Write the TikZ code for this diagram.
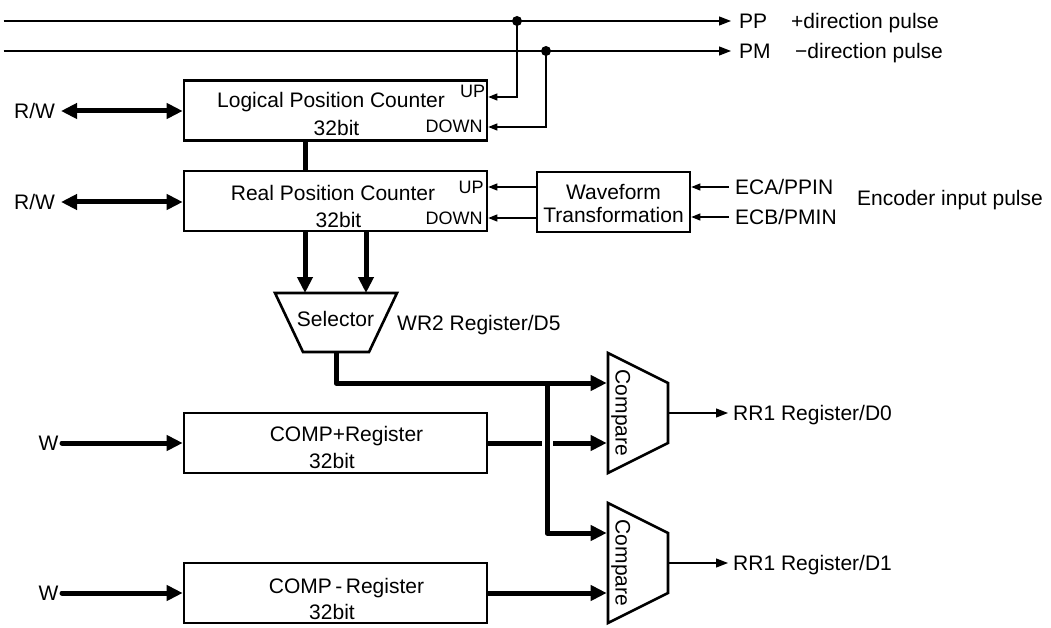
\documentclass[tikz,border=0pt]{standalone}
\usepackage{fontspec}
\setmainfont{Liberation Sans}
\usetikzlibrary{arrows.meta}
\begin{document}
\begin{tikzpicture}[x=1pt,y=-1pt,
  box/.style={draw,line width=2.6pt,minimum width=303pt,minimum height=60pt,inner sep=0pt},
  txt/.style={inner sep=0pt,font=\fontsize{21}{25}\selectfont,text height=15pt,text depth=0pt},
  small/.style={inner sep=0pt,font=\fontsize{18}{22}\selectfont,text height=13pt,text depth=0pt},
  wire/.style={line width=1.2pt},
  wirearr/.style={wire,-{Triangle[length=9pt,width=7pt]}},
  outarr/.style={wire,-{Triangle[length=12pt,width=9pt]}},
  bus/.style={line width=5pt,line join=round},
  busarr/.style={bus,-{Triangle[length=16pt,width=15pt]}},
  dbusarr/.style={bus,{Triangle[length=16pt,width=15pt]}-{Triangle[length=16pt,width=15pt]}},
  dot/.style={circle,fill,inner sep=0pt,minimum size=10pt},
  outline/.style={line width=2.6pt,line join=miter},
]
\useasboundingbox (0,0) rectangle (1051,628);

% boxes
\node[box] (lpc) at (335.5,110.5) {};
\node[box] (rpc) at (335.5,201) {};
\node[box,minimum width=153pt] (wav) at (613.5,202) {};
\node[box] (cpp) at (335.5,443) {};
\node[box] (cpm) at (335.5,593) {};

% box texts
\node[txt] (lpct) at (331,100) {Logical Position Counter};
\node[txt] (lpcb) at (336.5,128) {32bit};
\node[small] (lpcu) at (472.5,91) {UP};
\node[small] (lpcd) at (454,126) {DOWN};
\node[txt] (rpct) at (333,193) {Real Position Counter};
\node[txt] (rpcb) at (338.5,220) {32bit};
\node[small] (rpcu) at (471,187) {UP};
\node[small] (rpcd) at (454,218) {DOWN};
\node[txt] (wavt) at (613.5,192) {Waveform};
\node[txt] (wavb) at (613.5,215) {Transformation};
\node[txt] (cppt) at (346.5,434) {COMP+Register};
\node[txt] (cppb) at (332,461) {32bit};
\node[txt] (cpmt) at (346.5,586) {COMP\,-\,Register};
\node[txt] (cpmb) at (332,612) {32bit};

% top pulse lines
\coordinate (ppstart) at (3.5,21);
\coordinate (ppend) at (731,21);
\coordinate (pmstart) at (3.5,51);
\coordinate (pmend) at (731,51);
\node[dot] (ppdot) at (517,21) {};
\node[dot] (pmdot) at (546,51) {};
\draw[outarr] (ppstart) -- (ppend);
\draw[outarr] (pmstart) -- (pmend);
\node[txt,anchor=west] (pplbl) at (739,21) {PP};
\node[txt,anchor=west] (ppdesc) at (791,21) {+direction pulse};
\node[txt,anchor=west] (pmlbl) at (739,51) {PM};
\node[txt,anchor=west] (pmdesc) at (795,51) {−direction pulse};

\coordinate (yUP1) at (0,97);
\coordinate (yDN1) at (0,127);
\coordinate (yUP2) at (0,187);
\coordinate (yDN2) at (0,218);
\draw[wirearr] (ppdot.center) |- (lpc.east |- yUP1);
\draw[wirearr] (pmdot.center) |- (lpc.east |- yDN1);
\draw[wirearr] (wav.west |- yUP2) -- (rpc.east |- yUP2);
\draw[wirearr] (wav.west |- yDN2) -- (rpc.east |- yDN2);

% encoder inputs
\coordinate (ecain) at (729,187);
\coordinate (ecbin) at (729,217);
\draw[wirearr] (ecain) -- (wav.east |- ecain);
\draw[wirearr] (ecbin) -- (wav.east |- ecbin);
\node[txt,anchor=west] (ecal) at (735,187) {ECA/PPIN};
\node[txt,anchor=west] (ecbl) at (735,217) {ECB/PMIN};
\node[txt,anchor=west] (encl) at (857,198) {Encoder input pulse};

% R/W
\node[txt] (rw1) at (34.5,111) {R/W};
\node[txt] (rw2) at (34.5,202) {R/W};
\coordinate (rw1e) at (61,111);
\coordinate (rw2e) at (61,202);
\draw[dbusarr] (rw1e) -- (lpc.west |- rw1e);
\draw[dbusarr] (rw2e) -- (rpc.west |- rw2e);

% LPC - RPC link
\coordinate (xl) at (305,0);
\draw[bus] (lpc.south -| xl) -- (rpc.north -| xl);

% selector
\coordinate (selA) at (275,293);
\coordinate (selB) at (397,293);
\coordinate (selC) at (369,352);
\coordinate (selD) at (303,352);
\draw[outline] (selA) -- (selB) -- (selC) -- (selD) -- cycle;
\node[txt] (selt) at (335.5,319) {Selector};
\node[txt,anchor=west] (wr2) at (397,323) {WR2 Register/D5};
\coordinate (selin1) at (305,293);
\coordinate (selin2) at (366,293);
\draw[busarr] (rpc.south -| selin1) -- (selin1);
\draw[busarr] (rpc.south -| selin2) -- (selin2);
\coordinate (selout) at (336,352);

% compare blocks
\draw[outline] (608,353) -- (668,383) -- (668,443) -- (608,473) -- cycle;
\draw[outline] (608,503) -- (668,533) -- (668,593) -- (608,623) -- cycle;
\node[txt,rotate=-90] (cmp1) at (623,413) {Compare};
\node[txt,rotate=-90] (cmp2) at (623,563) {Compare};
\coordinate (c1in1) at (606.7,383);
\coordinate (c1in2) at (606.7,443);
\coordinate (c2in1) at (606.7,533);
\coordinate (c2in2) at (606.7,593);
\coordinate (c1out) at (668,413);
\coordinate (c2out) at (668,563);

% buses to compare
\draw[busarr] (selout) |- (c1in1);
\coordinate (junc) at (547,383);
\draw[busarr] (junc) |- (c2in1);
\coordinate (gapL) at (542,443);
\coordinate (gapR) at (553,443);
\draw[bus] (cpp.east) -- (gapL);
\draw[busarr] (gapR) -- (c1in2);
\draw[busarr] (cpm.east) -- (c2in2);

% W inputs
\node[txt] (w1) at (48.5,443) {W};
\node[txt] (w2) at (48.5,593) {W};
\coordinate (w1e) at (62,443);
\coordinate (w2e) at (62,593);
\draw[busarr,line cap=round] (w1e) -- (cpp.west);
\draw[busarr,line cap=round] (w2e) -- (cpm.west);

% outputs
\coordinate (rr0) at (728,413);
\coordinate (rr1) at (728,563);
\draw[outarr] (c1out) -- (rr0);
\draw[outarr] (c2out) -- (rr1);
\node[txt,anchor=west] (rr0l) at (733,413) {RR1 Register/D0};
\node[txt,anchor=west] (rr1l) at (733,563) {RR1 Register/D1};
\end{tikzpicture}
\end{document}
